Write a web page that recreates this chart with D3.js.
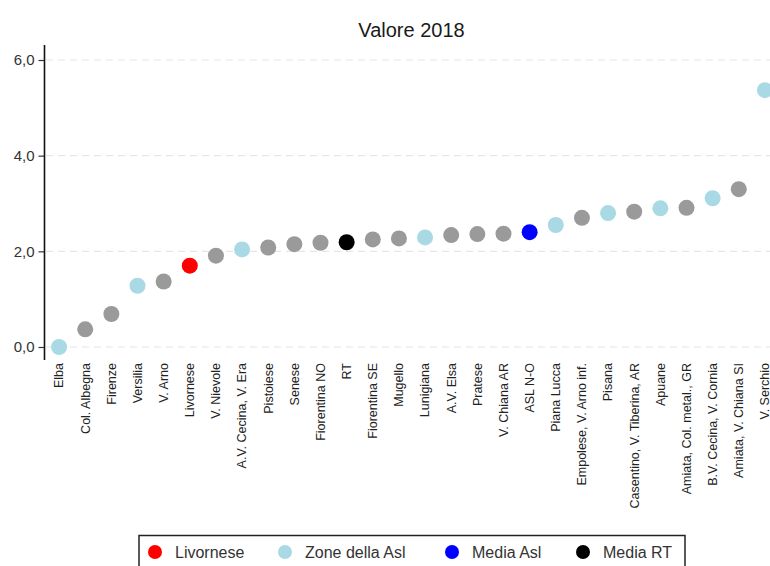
<!DOCTYPE html>
<html><head><meta charset="utf-8">
<script src="https://cdn.jsdelivr.net/npm/d3@7/dist/d3.min.js"></script>
<style>body{margin:0;background:#fff;font-family:"Liberation Sans",Arial,sans-serif}</style>
</head><body><svg id="c" width="770" height="566"></svg>
<script>
const categories = ["Elba","Col. Albegna","Firenze","Versilia","V. Arno","Livornese","V. Nievole","A.V. Cecina, V. Era","Pistoiese","Senese","Fiorentina NO","RT","Fiorentina SE","Mugello","Lunigiana","A.V. Elsa","Pratese","V. Chiana AR","ASL N-O","Piana Lucca","Empolese, V. Arno inf.","Pisana","Casentino, V. Tiberina, AR","Apuane","Amiata, Col. metal., GR","B.V. Cecina, V. Cornia","Amiata, V. Chiana SI","V. Serchio"];
const values = [0.00,0.37,0.69,1.28,1.37,1.70,1.91,2.04,2.08,2.15,2.18,2.19,2.25,2.27,2.29,2.34,2.36,2.37,2.40,2.55,2.70,2.80,2.83,2.90,2.91,3.11,3.30,5.37];
const groups = ["zona","altro","altro","zona","altro","livornese","altro","zona","altro","altro","altro","rt","altro","altro","zona","altro","altro","altro","asl","zona","altro","zona","altro","zona","altro","zona","altro","zona"];
const yTicks = [0,2,4,6];
const legendKeys = ["livornese","zona","asl","rt"];
const legendLabels = ["Livornese","Zone della Asl","Media Asl","Media RT"];
const title = "Valore 2018";

const colors = {altro:"#9a9a9a", zona:"#a9d9e4", livornese:"#ff0000", asl:"#0000ff", rt:"#000000"};
const svg = d3.select("#c");
const x = d3.scaleBand().domain(categories).range([46, 778]).padding(0);
const y = d3.scaleLinear().domain([0,6]).range([347, 60]);
const cx = c => x(c) + x.bandwidth()/2;

svg.append("text").attr("x",411.5).attr("y",37).attr("text-anchor","middle")
  .attr("font-size",20).attr("fill","#1a1a1a").text(title);

// grid
svg.append("g").selectAll("line").data(yTicks).join("line")
  .attr("x1",46).attr("x2",770).attr("y1",d=>y(d)).attr("y2",d=>y(d))
  .attr("stroke","#e6e6e6").attr("stroke-width",1.2).attr("stroke-dasharray","7,5");

// y axis
const fmt = d => d3.format(".1f")(d).replace(".",",");
const ya = svg.append("g").attr("transform","translate(44.5,0)")
  .call(d3.axisLeft(y).tickValues(yTicks).tickFormat(fmt).tickSize(6).tickSizeOuter(0));
ya.select(".domain").remove();
ya.selectAll(".tick line").attr("stroke","#333").attr("stroke-width",1.2);
ya.selectAll(".tick text").attr("font-size",15).attr("fill","#333").attr("font-family","Liberation Sans, Arial, sans-serif").attr("x",-10);
svg.append("line").attr("x1",44.5).attr("x2",44.5).attr("y1",45).attr("y2",360).attr("stroke","#111").attr("stroke-width",1.6);

// x labels
svg.append("g").selectAll("text").data(categories).join("text")
  .attr("transform",d=>`translate(${cx(d)},363) rotate(-90)`)
  .attr("text-anchor","end").attr("dy","0.35em")
  .attr("font-size",12.5).attr("fill","#222").text(d=>d);

// points
svg.append("g").selectAll("circle").data(categories).join("circle")
  .attr("cx",d=>cx(d)).attr("cy",(d,i)=>y(values[i])).attr("r",8)
  .attr("fill",(d,i)=>colors[groups[i]]);

// legend
svg.append("rect").attr("x",139).attr("y",535.5).attr("width",546).attr("height",40)
  .attr("fill","none").attr("stroke","#222").attr("stroke-width",1.5);
const lx = [155,285,452,583];
const lg = svg.append("g").selectAll("g").data(legendKeys).join("g")
  .attr("transform",(d,i)=>`translate(${lx[i]},552)`);
lg.append("circle").attr("r",7).attr("fill",d=>colors[d]);
lg.append("text").attr("x",20).attr("y",6).attr("font-size",16).attr("fill","#333")
  .text((d,i)=>legendLabels[i]);
</script></body></html>
